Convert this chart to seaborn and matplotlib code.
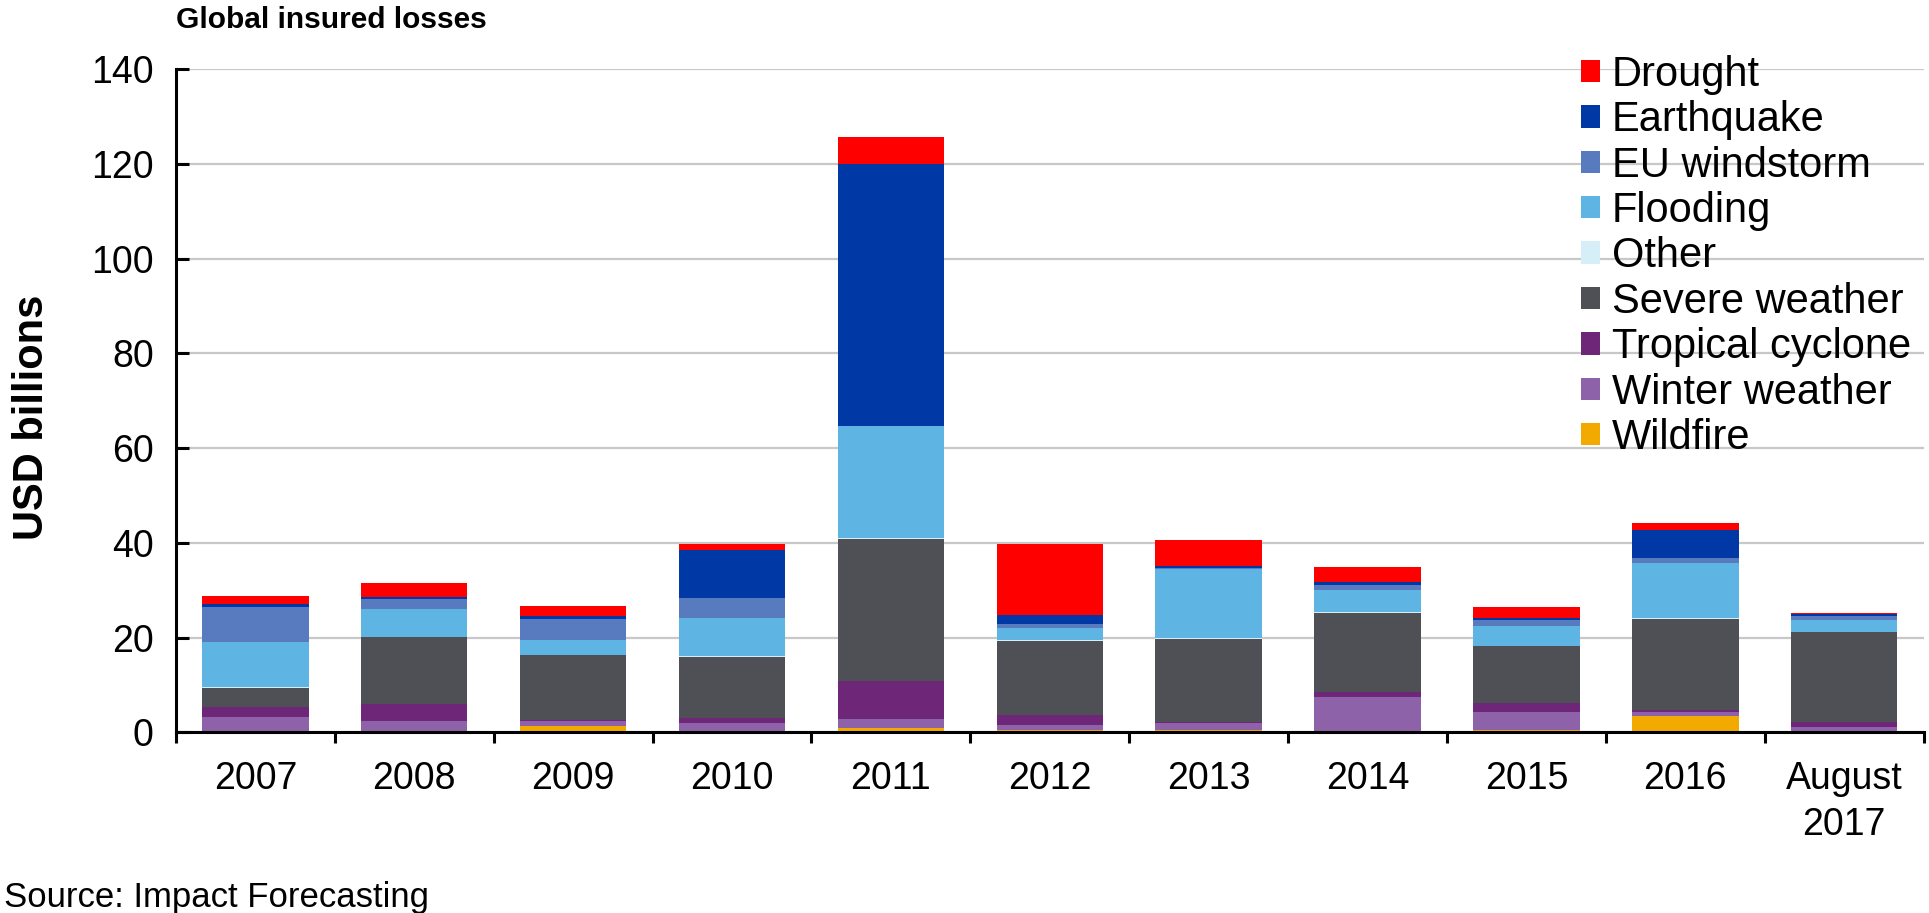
import numpy as np
import pandas as pd
import matplotlib
matplotlib.use("Agg")
import matplotlib.pyplot as plt
import seaborn as sns

# ================= DATA =================
years = ["2007", "2008", "2009", "2010", "2011", "2012", "2013", "2014",
         "2015", "2016", "August\n2017"]

# stacked bottom -> top
wildfire = [0.0, 0.0, 1.3, 0.0, 0.85, 0.4, 0.4, 0.2, 0.5, 3.4, 0.3]
winter_weather = [3.2, 2.4, 1.1, 1.9, 1.95, 1.1, 1.6, 7.2, 3.7, 0.8, 0.7]
tropical_cyclone = [2.1, 3.6, 0.1, 1.1, 8.0, 2.2, 0.1, 1.1, 2.0, 0.5, 1.1]
severe_weather = [4.0, 14.1, 13.8, 12.9, 30.0, 15.6, 17.6, 16.7, 12.0, 19.3, 19.0]
other = [0.3, 0.1, 0.1, 0.1, 0.2, 0.1, 0.1, 0.1, 0.1, 0.1, 0.1]
flooding = [9.4, 5.9, 3.0, 8.2, 23.6, 2.7, 14.7, 4.8, 4.2, 11.7, 2.6]
eu_windstorm = [7.5, 2.0, 4.5, 4.1, 0.0, 0.8, 0.2, 1.0, 1.3, 1.0, 0.8]
earthquake = [0.5, 0.4, 0.6, 10.2, 55.4, 1.9, 0.5, 0.6, 0.3, 6.0, 0.3]
drought = [1.7, 3.0, 2.1, 1.2, 5.8, 14.9, 5.5, 3.1, 2.3, 1.3, 0.3]

perils = ["Wildfire", "Winter weather", "Tropical cyclone", "Severe weather",
          "Other", "Flooding", "EU windstorm", "Earthquake", "Drought"]
colors = ["#F2A900", "#8E62A8", "#6E2778", "#4F5055", "#D6EEF8",
          "#5EB5E3", "#587BC0", "#0039A6", "#FF0000"]

df = pd.DataFrame({
    "year": years,
    "Wildfire": wildfire,
    "Winter weather": winter_weather,
    "Tropical cyclone": tropical_cyclone,
    "Severe weather": severe_weather,
    "Other": other,
    "Flooding": flooding,
    "EU windstorm": eu_windstorm,
    "Earthquake": earthquake,
    "Drought": drought,
})

# cumulative tops, drawn from the top layer down so each overlaps the previous
cum = df[perils].cumsum(axis=1)

# ================= PLOT =================
sns.set_style("white")
plt.rcParams["font.family"] = ["Liberation Sans", "DejaVu Sans"]
plt.rcParams["text.color"] = "black"
plt.rcParams["axes.labelcolor"] = "black"
plt.rcParams["xtick.color"] = "black"
plt.rcParams["ytick.color"] = "black"

fig = plt.figure(figsize=(19.29, 9.13), dpi=100)
ax = fig.add_axes([0.0912, 0.198, 0.906, 0.726])

for name, col in zip(perils[::-1], colors[::-1]):
    sns.barplot(x=df["year"], y=cum[name], color=col, width=0.67,
                label=name, ax=ax, linewidth=0, saturation=1)

ax.set_ylim(0, 140)
ax.set_xlim(-0.5, len(years) - 0.5)
ax.set_yticks(np.arange(0, 141, 20))
ax.yaxis.grid(True, color="#C8C8C8", linewidth=1.6)
ax.set_axisbelow(True)

for s in ["top", "right"]:
    ax.spines[s].set_visible(False)
ax.spines["left"].set_linewidth(2.2)
ax.spines["bottom"].set_linewidth(2.2)
ax.spines["left"].set_color("black")
ax.spines["bottom"].set_color("black")

ax.tick_params(axis="y", direction="in", length=9, width=2.2,
               labelsize=27, pad=16, left=True)
ax.tick_params(axis="x", length=0, labelsize=27, pad=21)
ax.set_xticks(np.arange(len(years)))
ax.set_xticklabels(years, linespacing=1.35)
ax.set_xticks(np.arange(len(years) + 1) - 0.5, minor=True)
ax.tick_params(axis="x", which="minor", direction="out", length=8,
               width=2.2, bottom=True)

ax.set_xlabel("")
ax.set_ylabel("USD billions", fontsize=30, fontweight="bold")
ax.yaxis.set_label_coords(-0.071, 0.475)

handles, labels = ax.get_legend_handles_labels()
leg = fig.legend(handles, labels, loc="upper left",
                 bbox_to_anchor=(0.8195, 0.940), frameon=False,
                 fontsize=30, handlelength=0.45, handleheight=0.45,
                 handletextpad=0.3, labelspacing=0.13, borderpad=0,
                 borderaxespad=0)
if ax.get_legend() is not None:
    ax.get_legend().remove()

fig.text(0.0912, 0.978, "Global insured losses", fontsize=21.5,
         fontweight="bold", va="center", ha="left")
fig.text(0.002, 0.0165, "Source: Impact Forecasting", fontsize=25,
         va="center", ha="left")

fig.savefig("out.png", dpi=100)
plt.close()
